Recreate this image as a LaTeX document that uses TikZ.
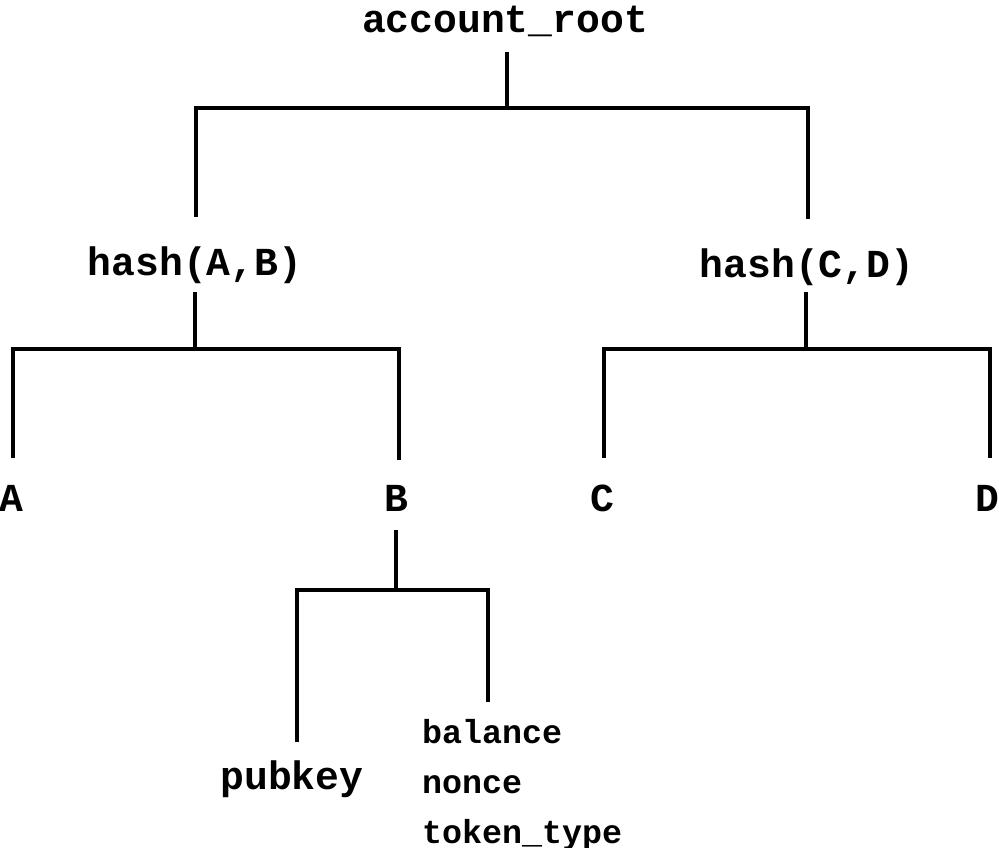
\documentclass[tikz,border=0pt]{standalone}
\usepackage{fontspec}
\newfontfamily\monob{Liberation Mono}[BoldFont={Liberation Mono Bold}]
\begin{document}
\begin{tikzpicture}[x=1pt,y=-1pt,
  big/.style={inner sep=0pt,anchor=base,text height=0.7em,font=\monob\bfseries\fontsize{39.7}{40}\selectfont},
  small/.style={inner sep=0pt,anchor=base west,font=\monob\bfseries\fontsize{33.3}{34}\selectfont},
  conn/.style={line width=4.5pt,line cap=butt,line join=miter}]
\useasboundingbox (0,0) rectangle (999,848);
% nodes
\node[big] (root) at (505,33) {account\_root};
\node[big] (hab) at (195,275) {hash(A,B)};
\node[big] (hcd) at (807,277) {hash(C,D)};
\node[big] (a) at (11,511) {A};
\node[big] (b) at (396,511) {B};
\node[big] (c) at (602,511) {C};
\node[big] (d) at (987,511) {D};
\node[big] (pub) at (292,789) {pubkey};
\node[small] (bal) at (422,743) {balance};
\node[small] (non) at (422,793) {nonce};
\node[small] (tok) at (422,843) {token\_type};
% connector ends
\coordinate (r0) at (507,52);   \coordinate (r1) at (507,108);
\coordinate (rl) at (196,217);  \coordinate (rr) at (808,219);
\coordinate (ab0) at (195,292); \coordinate (ab1) at (195,349);
\coordinate (al) at (13,458);   \coordinate (bl) at (399,460);
\coordinate (cd0) at (806,292); \coordinate (cd1) at (806,349);
\coordinate (cl) at (604,458);  \coordinate (dl) at (990,458);
\coordinate (b0) at (396,530);  \coordinate (b1) at (396,590);
\coordinate (pl) at (297,742);  \coordinate (vl) at (488,702);
% connectors
\draw[conn] (r0) -- (r1);
\draw[conn] (rl) -- (rl |- r1) -- (rr |- r1) -- (rr);
\draw[conn] (ab0) -- (ab1);
\draw[conn] (al) -- (al |- ab1) -- (bl |- ab1) -- (bl);
\draw[conn] (cd0) -- (cd1);
\draw[conn] (cl) -- (cl |- cd1) -- (dl |- cd1) -- (dl);
\draw[conn] (b0) -- (b1);
\draw[conn] (pl) -- (pl |- b1) -- (vl |- b1) -- (vl);
\end{tikzpicture}
\end{document}
